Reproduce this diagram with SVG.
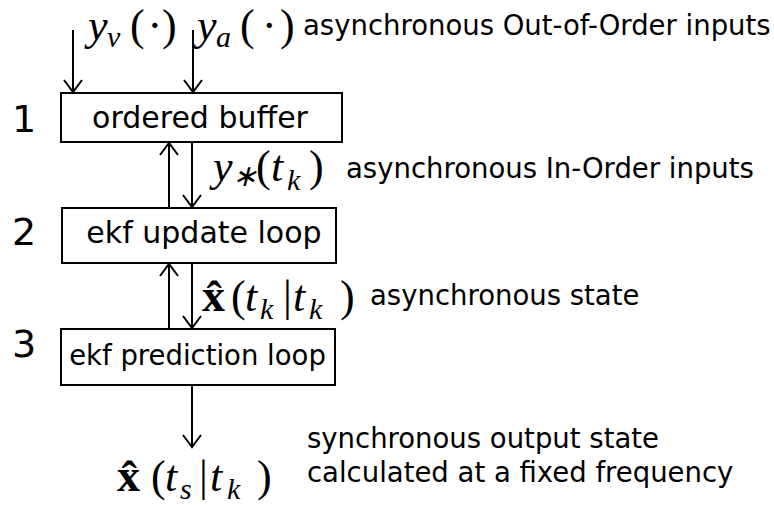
<svg xmlns="http://www.w3.org/2000/svg" width="774" height="505" viewBox="0 0 774 505">
<style>
.box{fill:#fff;stroke:#000;stroke-width:2}
.lbl{font-family:"DejaVu Sans",sans-serif;fill:#000}
.num{font-family:"DejaVu Sans",sans-serif;font-size:38px;fill:#000}
.m{font-family:"Liberation Serif",serif;font-style:italic;font-size:44px;fill:#000}
.ms{font-family:"Liberation Serif",serif;font-style:italic;font-size:30px;fill:#000}
.mr{font-family:"Liberation Serif",serif;font-size:44px;fill:#000}
.mb{font-family:"Liberation Serif",serif;font-weight:bold;font-size:46px;fill:#000}
.c{stroke:#000;stroke-width:2;fill:none;marker-end:url(#ah)}
</style>
<defs>
<marker id="ah" markerUnits="userSpaceOnUse" viewBox="-14 -11 16 22" refX="0" refY="0" markerWidth="16" markerHeight="22" orient="auto">
<path d="M-12,-9 L0,0 L-12,9" fill="none" stroke="#000" stroke-width="2"/>
</marker>
</defs>
<rect width="774" height="505" fill="#fff"/>
<g id="connectors">
<line class="c" x1="73" y1="30" x2="73" y2="92"/>
<line class="c" x1="193" y1="30" x2="193" y2="92"/>
<line class="c" x1="169" y1="208" x2="169" y2="143"/>
<line class="c" x1="192" y1="142" x2="192" y2="207"/>
<line class="c" x1="169" y1="329" x2="169" y2="264"/>
<line class="c" x1="192" y1="263" x2="192" y2="328"/>
<line class="c" x1="192" y1="385" x2="192" y2="447"/>
</g>
<g id="node1">
<rect class="box" x="61" y="93" width="281" height="49"/>
<text class="lbl" x="200" y="128" font-size="30" text-anchor="middle">ordered buffer</text>
<text class="num" x="12" y="132">1</text>
</g>
<g id="node2">
<rect class="box" x="62" y="208" width="274" height="55"/>
<text class="lbl" x="204" y="243" font-size="30" text-anchor="middle">ekf update loop</text>
<text class="num" x="12" y="245">2</text>
</g>
<g id="node3">
<rect class="box" x="61" y="329" width="274" height="56"/>
<text class="lbl" x="197.5" y="365" font-size="27.5" text-anchor="middle">ekf prediction loop</text>
<text class="num" x="12" y="357">3</text>
</g>
<g id="labels">
<text class="m" x="88" y="40">y</text><text class="ms" x="107" y="47">v</text>
<text class="mr" x="130" y="40">(</text><text class="mr" x="147.5" y="40">·</text><text class="mr" x="162" y="40">)</text>
<text class="m" x="197" y="40">y</text><text class="ms" x="216" y="47">a</text>
<text class="mr" x="240" y="40">(</text><text class="mr" x="262" y="40">·</text><text class="mr" x="280" y="40">)</text>
<text class="lbl" x="303" y="35" font-size="27.5">asynchronous Out-of-Order inputs</text>

<text class="m" x="213" y="181">y</text><text class="ms" x="232" y="186" font-size="24">∗</text>
<text class="mr" x="256" y="181">(</text><text class="m" x="271" y="181">t</text><text class="ms" x="287" y="190">k</text>
<text class="mr" x="309" y="181">)</text>
<text class="lbl" x="346" y="178" font-size="27.5">asynchronous In-Order inputs</text>

<text class="mb" x="202" y="311">x̂</text>
<text class="mr" x="231" y="311">(</text><text class="m" x="245" y="311">t</text><text class="ms" x="260" y="319">k</text>
<text class="mr" x="283" y="311">|</text><text class="m" x="293" y="311">t</text><text class="ms" x="309" y="319">k</text>
<text class="mr" x="340" y="311">)</text>
<text class="lbl" x="370" y="305" font-size="27.5">asynchronous state</text>

<text class="mb" x="117" y="491">x̂</text>
<text class="mr" x="151" y="491">(</text><text class="m" x="165" y="491">t</text><text class="ms" x="180" y="499">s</text>
<text class="mr" x="199" y="491">|</text><text class="m" x="210" y="491">t</text><text class="ms" x="227" y="499">k</text>
<text class="mr" x="257" y="491">)</text>
<text class="lbl" x="307" y="448" font-size="27.5">synchronous output state</text>
<text class="lbl" x="307" y="482" font-size="27.5">calculated at a fixed frequency</text>
</g>
</svg>
